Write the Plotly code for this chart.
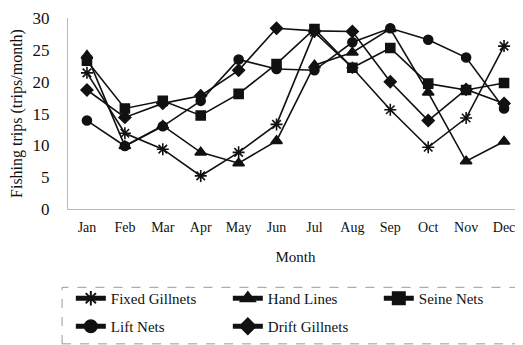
import plotly.graph_objects as go

months = ["Jan", "Feb", "Mar", "Apr", "May", "Jun", "Jul", "Aug", "Sep", "Oct", "Nov", "Dec"]
fixed_gillnets = [21.4, 11.9, 9.4, 5.2, 8.9, 13.3, 27.8, 22.2, 15.6, 9.7, 14.3, 25.6]
hand_lines = [24.1, 9.9, 13.1, 8.9, 7.2, 10.7, 22.6, 24.6, 28.3, 18.3, 7.5, 10.6]
seine_nets = [23.3, 15.8, 17.0, 14.7, 18.1, 22.8, 28.3, 22.2, 25.3, 19.7, 18.7, 19.8]
lift_nets = [13.9, 9.9, 13.0, 17.0, 23.5, 22.0, 21.8, 26.2, 28.4, 26.6, 23.8, 15.8]
drift_gillnets = [18.7, 14.4, 16.6, 17.8, 21.8, 28.4, 28.0, 27.9, 20.0, 13.9, 18.8, 16.6]
y_ticks = [0, 5, 10, 15, 20, 25, 30]

FONT = "Liberation Serif, Times New Roman, serif"

series = [
    ("Fixed Gillnets", fixed_gillnets, "asterisk-open", 10, "legend"),
    ("Hand Lines", hand_lines, "triangle-up", 10, "legend"),
    ("Seine Nets", seine_nets, "square", 9, "legend3"),
    ("Lift Nets", lift_nets, "circle", 9, "legend2"),
    ("Drift Gillnets", drift_gillnets, "diamond", 9, "legend2"),
]

fig = go.Figure()
for name, vals, sym, size, lg in series:
    fig.add_trace(go.Scatter(
        x=months, y=vals, name=name, mode="lines+markers", legend=lg,
        line=dict(color="#111111", width=1.6),
        marker=dict(symbol=sym, size=size, color="#111111",
                    line=dict(color="#111111", width=1.6)),
    ))

legend_common = dict(
    orientation="h", xref="container", x=0.122, xanchor="left",
    yref="container", yanchor="top",
    entrywidth=112, entrywidthmode="pixels",
    font=dict(family=FONT, size=15, color="#111111"),
    bgcolor="rgba(0,0,0,0)", itemsizing="constant",
)

fig.update_layout(
    width=515, height=337,
    margin=dict(l=60, r=0, t=10, b=136, autoexpand=False),
    paper_bgcolor="white", plot_bgcolor="white",
    font=dict(family=FONT, color="#111111"),
    showlegend=True,
    legend=dict(legend_common, y=0.187),
    legend2=dict(legend_common, y=0.104),
    legend3=dict(legend_common, y=0.187, x=0.72),
    xaxis=dict(
        type="category", categoryorder="array", categoryarray=months,
        showgrid=False, showline=True, linecolor="#bbbbbb", linewidth=1,
        ticks="", tickfont=dict(family=FONT, size=14), automargin=False,
        ticklabelstandoff=5,
        title=dict(text="Month", font=dict(family=FONT, size=15), standoff=17),
        range=[-0.5, 11.5], zeroline=False,
    ),
    yaxis=dict(
        range=[0, 30.02], tickvals=y_ticks, showgrid=False, zeroline=False,
        showline=True, linecolor="#bbbbbb", linewidth=1, automargin=False,
        ticks="", tickfont=dict(family=FONT, size=17), ticklabelstandoff=14,
        ticklabeloverflow="allow",
        title=dict(text="Fishing trips (trips/month)", font=dict(family=FONT, size=16), standoff=10),
    ),
)

fig.add_shape(type="rect", xref="paper", yref="paper",
              x0=-0.013, x1=1.0, y0=-0.706, y1=-0.41,
              line=dict(color="#999999", width=1, dash="dash"))

fig.write_html("out.html")
